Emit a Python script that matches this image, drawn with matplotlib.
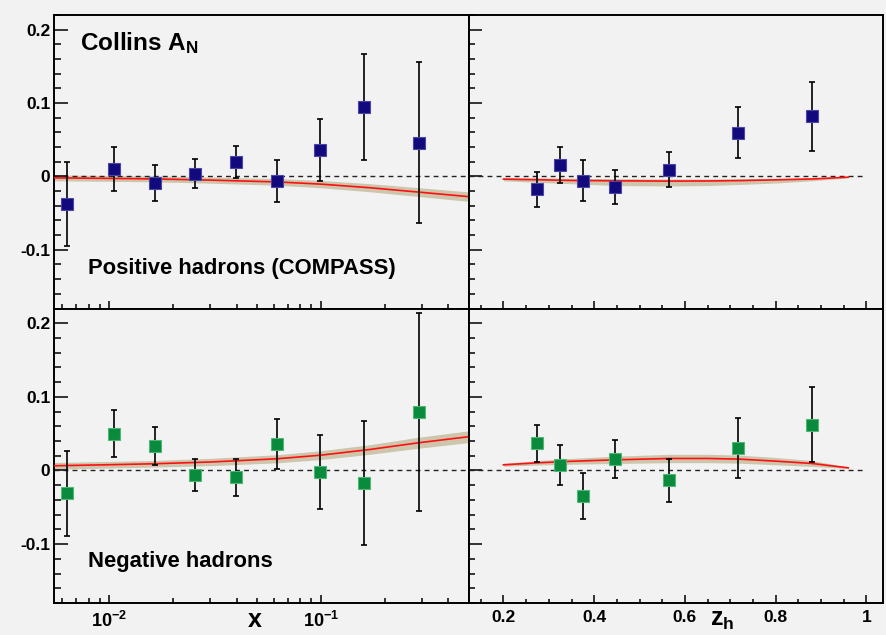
import numpy as np
import matplotlib
matplotlib.use("Agg")
import matplotlib.pyplot as plt
from matplotlib.ticker import FixedLocator, FixedFormatter, LogLocator, NullFormatter, MultipleLocator

plt.rcParams['font.family'] = ['Liberation Sans', 'DejaVu Sans']
plt.rcParams['mathtext.fontset'] = 'custom'
plt.rcParams['mathtext.rm'] = 'Liberation Sans:bold'
plt.rcParams['mathtext.bf'] = 'Liberation Sans:bold'
plt.rcParams['mathtext.it'] = 'Liberation Sans:bold'
plt.rcParams['mathtext.default'] = 'bf'

# ---------------- data ----------------
x_bins = [0.0063, 0.0105, 0.0164, 0.0255, 0.0395, 0.0621, 0.0993, 0.160, 0.291]
pos_x_val = [-0.038, 0.0095, -0.009, 0.0036, 0.0195, -0.0064, 0.036, 0.095, 0.046]
pos_x_err = [0.057, 0.030, 0.024, 0.020, 0.022, 0.029, 0.0425, 0.072, 0.110]
neg_x_val = [-0.031, 0.050, 0.033, -0.0063, -0.0091, 0.0358, -0.0018, -0.0172, 0.0794]
neg_x_err = [0.058, 0.032, 0.026, 0.022, 0.025, 0.034, 0.050, 0.084, 0.134]

z_bins = [0.275, 0.325, 0.375, 0.446, 0.566, 0.718, 0.880]
pos_z_val = [-0.0177, 0.0155, -0.0059, -0.0145, 0.0091, 0.0596, 0.0819]
pos_z_err = [0.0235, 0.025, 0.028, 0.023, 0.024, 0.035, 0.0466]
neg_z_val = [0.0367, 0.0073, -0.0345, 0.0154, -0.0136, 0.0304, 0.0621]
neg_z_err = [0.025, 0.027, 0.031, 0.026, 0.029, 0.041, 0.051]

# theory curves
x_curve = [0.0055, 0.01, 0.0162, 0.03, 0.062, 0.1, 0.17, 0.29, 0.5]
pos_x_curve = [-0.002, -0.0027, -0.0034, -0.005, -0.0075, -0.0105, -0.0154, -0.0214, -0.0276]
pos_x_band = [0.004, 0.004, 0.004, 0.0042, 0.0045, 0.005, 0.0055, 0.006, 0.0065]
neg_x_curve = [0.0064, 0.0078, 0.0091, 0.0115, 0.0159, 0.0208, 0.0285, 0.0377, 0.0459]
neg_x_band = [0.0045, 0.0045, 0.0045, 0.005, 0.0055, 0.006, 0.0065, 0.0075, 0.008]

z_curve = [0.2, 0.275, 0.35, 0.45, 0.566, 0.65, 0.72, 0.8, 0.88, 0.96]
pos_z_curve = [-0.0037, -0.0045, -0.0055, -0.006, -0.0064, -0.0062, -0.0057, -0.0047, -0.0035, -0.001]
pos_z_lo = [-0.006, -0.008, -0.010, -0.0125, -0.013, -0.0125, -0.011, -0.009, -0.006, -0.002]
pos_z_hi = [-0.0015, -0.002, -0.0025, -0.003, -0.0035, -0.0035, -0.003, -0.0025, -0.002, -0.0005]
neg_z_curve = [0.0077, 0.0104, 0.0125, 0.0145, 0.0163, 0.0163, 0.0154, 0.0127, 0.0095, 0.0036]
neg_z_band = [0.002, 0.003, 0.004, 0.005, 0.0057, 0.0057, 0.0055, 0.005, 0.004, 0.001]

ylim = (-0.18, 0.22)
xlim = (0.0055, 0.5)
zlim = (0.124, 1.036)
y_major = [-0.1, 0.0, 0.1, 0.2]
y_labels = ['-0.1', '0', '0.1', '0.2']
x_labels = [r'$\mathbf{10^{-2}}$', r'$\mathbf{10^{-1}}$']
z_major = [0.2, 0.4, 0.6, 0.8, 1.0]
z_labels = ['0.2', '0.4', '0.6', '0.8', '1']

# ---------------- style ----------------
bg = '#f2f2f2'
blue = '#120a7c'
blue_edge = '#4a46a8'
green = '#0a8a3c'
green_edge = '#4fb877'
band_col = '#cdc6ad'
W, H = 886, 635
fig = plt.figure(figsize=(W / 100, H / 100), dpi=100, facecolor=bg)

xl, xm, xr = 54.3 / W, 469 / W, 882.7 / W
yt, ym, yb = 1 - 15 / H, 1 - 308.5 / H, 1 - 603 / H

ax_tl = fig.add_axes([xl, ym, xm - xl, yt - ym])
ax_tr = fig.add_axes([xm, ym, xr - xm, yt - ym])
ax_bl = fig.add_axes([xl, yb, xm - xl, ym - yb])
ax_br = fig.add_axes([xm, yb, xr - xm, ym - yb])

for ax in (ax_tl, ax_tr, ax_bl, ax_br):
    ax.set_facecolor(bg)
    ax.set_ylim(*ylim)
    for s in ax.spines.values():
        s.set_linewidth(1.4)
        s.set_color('black')
    ax.yaxis.set_major_locator(FixedLocator(y_major))
    ax.yaxis.set_minor_locator(FixedLocator(list(np.round(np.arange(-0.18, 0.2201, 0.02), 3))))
    ax.tick_params(axis='both', which='both', direction='in', top=False, right=False, width=1.1,
                   labelsize=12.5)

for ax in (ax_tl, ax_bl):
    ax.set_xscale('log')
    ax.set_xlim(*xlim)
    ax.xaxis.set_major_locator(FixedLocator([0.01, 0.1]))
    ax.xaxis.set_major_formatter(FixedFormatter(x_labels))
    ax.xaxis.set_minor_locator(LogLocator(base=10, subs=np.arange(2, 10)))
    ax.xaxis.set_minor_formatter(NullFormatter())
    ax.tick_params(axis='y', which='major', length=10, pad=3)
    ax.tick_params(axis='y', which='minor', length=5)
    ax.tick_params(axis='x', which='major', length=6, pad=6, labelsize=13)
    ax.tick_params(axis='x', which='minor', length=3.5)
    ax.yaxis.set_major_formatter(FixedFormatter(y_labels))
    ax.axhline(0, color='#222222', lw=1.0, ls=(0, (3.5, 3)), zorder=2)

for ax in (ax_tr, ax_br):
    ax.set_xlim(*zlim)
    ax.xaxis.set_major_locator(FixedLocator(z_major))
    ax.xaxis.set_major_formatter(FixedFormatter(z_labels))
    ax.xaxis.set_minor_locator(MultipleLocator(0.05))
    ax.tick_params(axis='y', which='major', length=9, labelleft=False)
    ax.tick_params(axis='y', which='minor', length=4.5)
    ax.tick_params(axis='x', which='major', length=6, pad=5)
    ax.tick_params(axis='x', which='minor', length=3)
    ax.hlines(0, zlim[0], 1.0, color='#222222', lw=1.0, ls=(0, (3.5, 3)), zorder=2)

for ax in (ax_tl, ax_tr):
    ax.tick_params(axis='x', which='both', labelbottom=False)

for lab in ax_bl.get_yticklabels() + ax_tl.get_yticklabels() + ax_bl.get_xticklabels() + ax_br.get_xticklabels():
    lab.set_fontweight('bold')


def draw(ax, xc, yc, lo, hi, xd, yd, ed, col, ecol):
    ax.fill_between(xc, lo, hi, color=band_col, lw=0, zorder=1)
    ax.plot(xc, yc, color='#ff1010', lw=1.2, zorder=3)
    ax.errorbar(xd, yd, yerr=ed, fmt='none', ecolor='black', elinewidth=1.2, capsize=2.2,
                capthick=1.2, zorder=4)
    ax.plot(xd, yd, 's', ms=8, color=col, mec=ecol, mew=0.8, zorder=5)


draw(ax_tl, x_curve, pos_x_curve,
     np.array(pos_x_curve) - np.array(pos_x_band), np.array(pos_x_curve) + np.array(pos_x_band),
     x_bins, pos_x_val, pos_x_err, blue, blue_edge)
draw(ax_bl, x_curve, neg_x_curve,
     np.array(neg_x_curve) - np.array(neg_x_band), np.array(neg_x_curve) + np.array(neg_x_band),
     x_bins, neg_x_val, neg_x_err, green, green_edge)
draw(ax_tr, z_curve, pos_z_curve, pos_z_lo, pos_z_hi,
     z_bins, pos_z_val, pos_z_err, blue, blue_edge)
draw(ax_br, z_curve, neg_z_curve,
     np.array(neg_z_curve) - np.array(neg_z_band), np.array(neg_z_curve) + np.array(neg_z_band),
     z_bins, neg_z_val, neg_z_err, green, green_edge)

# texts
fig.text(80.5 / W, 1 - 50 / H, r'Collins A$_{\mathbf{N}}$', fontsize=17.5, fontweight='bold',
         ha='left', va='baseline')
fig.text(88 / W, 1 - 274 / H, 'Positive hadrons (COMPASS)', fontsize=15.8, fontweight='bold',
         ha='left', va='baseline')
fig.text(88 / W, 1 - 567 / H, 'Negative hadrons', fontsize=15.8, fontweight='bold',
         ha='left', va='baseline')
fig.text(255 / W, 1 - 627 / H, 'x', fontsize=18, fontweight='bold', ha='center', va='baseline')
fig.text(722 / W, 1 - 626 / H, r'$\mathbf{z}_{\mathbf{h}}$', fontsize=18, ha='center', va='baseline')

fig.savefig('out.png', dpi=100, facecolor=bg)
